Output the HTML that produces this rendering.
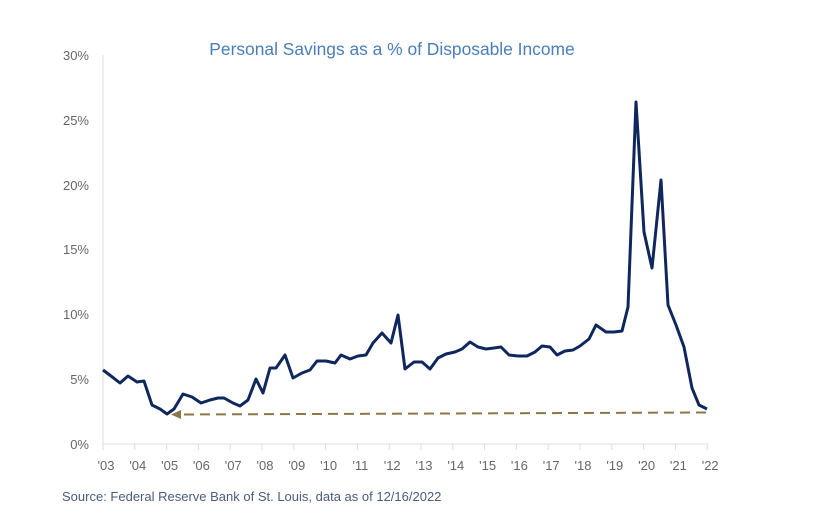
<!DOCTYPE html>
<html><head><meta charset="utf-8"><style>
body{margin:0;background:#fff;}
svg{display:block;font-family:"Liberation Sans",sans-serif;}
</style></head><body>
<svg width="820" height="514" viewBox="0 0 820 514">
<text x="392" y="55" text-anchor="middle" font-size="17.4" fill="#4a7ebb">Personal Savings as a % of Disposable Income</text>
<g stroke="#dcdcdc" stroke-width="1">
<line x1="103" y1="55" x2="103" y2="444"/>
<line x1="103" y1="444" x2="708" y2="444"/>
<line x1="103" y1="444" x2="103" y2="450"/><line x1="134.8" y1="444" x2="134.8" y2="450"/><line x1="166.6" y1="444" x2="166.6" y2="450"/><line x1="198.4" y1="444" x2="198.4" y2="450"/><line x1="230.2" y1="444" x2="230.2" y2="450"/><line x1="262" y1="444" x2="262" y2="450"/><line x1="293.8" y1="444" x2="293.8" y2="450"/><line x1="325.6" y1="444" x2="325.6" y2="450"/><line x1="357.4" y1="444" x2="357.4" y2="450"/><line x1="389.2" y1="444" x2="389.2" y2="450"/><line x1="421" y1="444" x2="421" y2="450"/><line x1="452.8" y1="444" x2="452.8" y2="450"/><line x1="484.6" y1="444" x2="484.6" y2="450"/><line x1="516.4" y1="444" x2="516.4" y2="450"/><line x1="548.2" y1="444" x2="548.2" y2="450"/><line x1="580" y1="444" x2="580" y2="450"/><line x1="611.8" y1="444" x2="611.8" y2="450"/><line x1="643.6" y1="444" x2="643.6" y2="450"/><line x1="675.4" y1="444" x2="675.4" y2="450"/><line x1="707.2" y1="444" x2="707.2" y2="450"/>
</g>
<g font-size="13" fill="#666" text-anchor="end">
<text x="89" y="60">30%</text><text x="89" y="125">25%</text><text x="89" y="190">20%</text>
<text x="89" y="254">15%</text><text x="89" y="319">10%</text><text x="89" y="384">5%</text><text x="89" y="449">0%</text>
</g>
<g font-size="13" fill="#666" text-anchor="middle">
<text x="106" y="470">'03</text><text x="137.8" y="470">'04</text><text x="169.6" y="470">'05</text><text x="201.4" y="470">'06</text><text x="233.2" y="470">'07</text><text x="265" y="470">'08</text><text x="296.8" y="470">'09</text><text x="328.6" y="470">'10</text><text x="360.4" y="470">'11</text><text x="392.2" y="470">'12</text><text x="424" y="470">'13</text><text x="455.8" y="470">'14</text><text x="487.6" y="470">'15</text><text x="519.4" y="470">'16</text><text x="551.2" y="470">'17</text><text x="583" y="470">'18</text><text x="614.8" y="470">'19</text><text x="646.6" y="470">'20</text><text x="678.4" y="470">'21</text><text x="710.2" y="470">'22</text>
</g>
<line x1="706" y1="412.5" x2="180" y2="414.5" stroke="#8b7748" stroke-width="2" stroke-dasharray="10,6"/>
<polygon points="171,414.5 181,410 181,419" fill="#8b7748"/>
<polyline fill="none" stroke="#10275e" stroke-width="3" stroke-linejoin="round" points="103,370 111,376 120,383 128,376 137,382 144,381 152,405 160,409 167,414 174,409 183,394 192,397 201,403 210,400 218,398 224,398 233,403 240,406 248,400 256,379 263,393 270,368 276,368 285,355 293,378 302,373 310,370 317,361 326,361 335,363 341,355 350,359 358,356 366,355 373,343 382,333 391,343 398,315 405,369 414,362 422,362 430,369 438,358 446,354 455,352 462,349 470,342 478,347 486,349 494,348 501,347 509,355 518,356 527,356 535,352 542,346 550,347 557,355 565,351 573,350 580,346 589,339 596,325 606,332 614,332 622,331 628,307 636,102 644,232 652,268 661,180 668,305 676,325 684,347 692,388 699,405 707,409"/>
<text x="62" y="501" font-size="13" fill="#4a5b7a">Source: Federal Reserve Bank of St. Louis, data as of 12/16/2022</text>
</svg>
</body></html>
